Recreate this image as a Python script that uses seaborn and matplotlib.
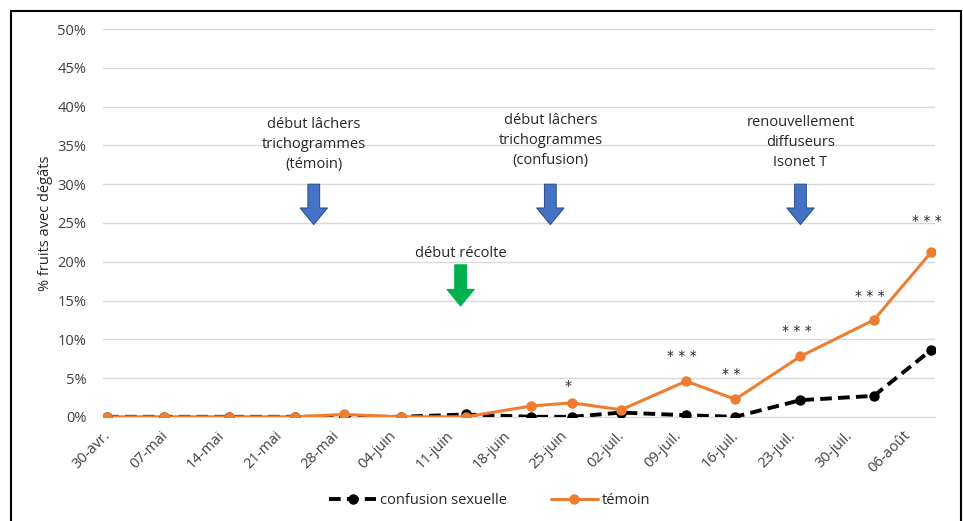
import pandas as pd
import seaborn as sns
import matplotlib.pyplot as plt
from matplotlib.patches import Rectangle
from matplotlib.ticker import PercentFormatter

# Dates of observations (points at mid-day)
dates = ["2019-04-30", "2019-05-07", "2019-05-15", "2019-05-23", "2019-05-29",
         "2019-06-05", "2019-06-13", "2019-06-21", "2019-06-26", "2019-07-02",
         "2019-07-10", "2019-07-16", "2019-07-24", "2019-08-02", "2019-08-09"]

# % fruits with damage
confusion = [0.0, 0.0, 0.0, 0.0, 0.0, 0.0, 0.3, 0.0, 0.0, 0.55,
             0.2, 0.0, 2.15, 2.7, 8.6]
temoin = [0.0, 0.0, 0.0, 0.0, 0.3, 0.0, 0.0, 1.4, 1.8, 0.9,
          4.6, 2.25, 7.8, 12.5, 21.2]

# significance stars above the témoin points
star_dates = ["2019-06-26", "2019-07-10", "2019-07-16", "2019-07-24", "2019-08-02", "2019-08-09"]
star_labels = ["*", "* * *", "* *", "* * *", "* * *", "* * *"]
star_y = [4.0, 7.8, 5.5, 11.1, 15.6, 25.2]

tick_dates = ["2019-04-30", "2019-05-07", "2019-05-14", "2019-05-21", "2019-05-28",
              "2019-06-04", "2019-06-11", "2019-06-18", "2019-06-25", "2019-07-02",
              "2019-07-09", "2019-07-16", "2019-07-23", "2019-07-30", "2019-08-06"]
tick_labels = ["30-avr.", "07-mai", "14-mai", "21-mai", "28-mai", "04-juin", "11-juin",
               "18-juin", "25-juin", "02-juil.", "09-juil.", "16-juil.", "23-juil.",
               "30-juil.", "06-août"]

# event annotations: text, date of arrow, text y, arrow top, arrow bottom, colour
events = [
    ("début lâchers\ntrichogrammes\n(témoin)", "2019-05-25 20:00", 35.1, 30.0, 24.8, "#4472C4"),
    ("début lâchers\ntrichogrammes\n(confusion)", "2019-06-23 20:00", 35.6, 30.0, 24.8, "#4472C4"),
    ("renouvellement\ndiffuseurs\nIsonet T", "2019-07-24 12:00", 35.4, 30.0, 24.8, "#4472C4"),
    ("début récolte", "2019-06-12 20:00", 21.0, 19.6, 14.3, "#00B050"),
]

df = pd.DataFrame({
    "date": pd.to_datetime(dates) + pd.Timedelta(hours=12),
    "confusion sexuelle": [v / 100 for v in confusion],
    "témoin": [v / 100 for v in temoin],
})

sns.set_style("white")
plt.rcParams["font.family"] = ["Open Sans", "DejaVu Sans"]

fig = plt.figure(figsize=(9.63, 5.21), dpi=100)
ax = fig.add_axes([0.107, 0.200, 0.864, 0.744])

sns.lineplot(data=df, x="date", y="confusion sexuelle", ax=ax, color="black",
             linewidth=2.8, linestyle=(0, (3, 1.6)), marker="o", markersize=7.5,
             markeredgewidth=0, label="confusion sexuelle", zorder=3)
sns.lineplot(data=df, x="date", y="témoin", ax=ax, color="#ED7D31",
             linewidth=2.2, marker="o", markersize=7.5, markeredgewidth=0,
             label="témoin", zorder=4)

ax.set_xlim(pd.Timestamp("2019-04-30"), pd.Timestamp("2019-08-10"))
ax.set_ylim(0, 0.5)
ax.set_yticks([i * 0.05 for i in range(11)])
ax.yaxis.set_major_formatter(PercentFormatter(1.0, decimals=0))
ax.set_xticks(pd.to_datetime(tick_dates))
ax.set_xticklabels(tick_labels, rotation=45, ha="right", rotation_mode="anchor")
ax.tick_params(axis="x", length=5, color="#D9D9D9", pad=3, labelsize=10.5, labelcolor="#404040")
ax.tick_params(axis="y", length=0, pad=12, labelsize=10.5, labelcolor="#404040")

ax.grid(axis="y", color="#D9D9D9", linewidth=1)
ax.set_axisbelow(True)
for s in ["top", "right", "left"]:
    ax.spines[s].set_visible(False)
ax.spines["bottom"].set_color("#D9D9D9")

ax.set_xlabel("")
ax.set_ylabel("% fruits avec dégâts", fontsize=10.5, color="#262626", labelpad=3)

for d, lab, y in zip(star_dates, star_labels, star_y):
    ax.text(pd.Timestamp(d), y / 100, lab, ha="center", va="center",
            fontsize=10, color="#262626", family="DejaVu Sans")

for txt, d, ty, top, bot, col in events:
    x = pd.Timestamp(d)
    ax.text(x, ty / 100, txt, ha="center", va="center", fontsize=10.5,
            color="#262626", linespacing=1.45)
    ax.annotate("", xy=(x, bot / 100), xytext=(x, top / 100),
                arrowprops=dict(arrowstyle="simple,head_length=0.85,head_width=1.4,tail_width=0.6",
                                mutation_scale=14, facecolor=col,
                                edgecolor="#2F528F" if col == "#4472C4" else col,
                                linewidth=0.8, shrinkA=0, shrinkB=0))

ax.legend(loc="center", bbox_to_anchor=(490 / 963, 1 - 501 / 521),
          bbox_transform=fig.transFigure, ncol=2, frameon=False,
          fontsize=10.5, handlelength=3.2, columnspacing=3, handletextpad=0.3)

fig.patches.append(Rectangle((11 / 963, -0.05), 950 / 963, 1.05 - 11 / 521,
                             transform=fig.transFigure, fill=False,
                             edgecolor="black", linewidth=1.5))

fig.savefig("out.png", dpi=100)
